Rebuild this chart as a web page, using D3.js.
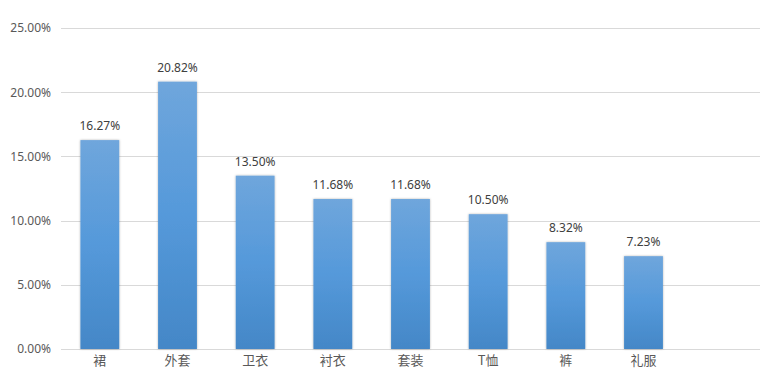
<!DOCTYPE html>
<html><head><meta charset="utf-8">
<script src="https://cdn.jsdelivr.net/npm/d3@7"></script>
<style>body{margin:0;background:#fff;} svg{display:block;}</style>
</head><body>
<svg id="chart" width="765" height="370"></svg>
<script>
const categories = ["裙","外套","卫衣","衬衣","套装","T恤","裤","礼服",""];
const values = [0.1627,0.2082,0.1350,0.1168,0.1168,0.1050,0.0832,0.0723];
const yTicks = [0,0.05,0.10,0.15,0.20,0.25];

const svg = d3.select("#chart");
const W = 765, H = 370;
const m = {left:61, right:5, top:28, bottom:21};
const x = d3.scaleBand().domain(categories).range([m.left, W - m.right]).paddingInner(0.5).paddingOuter(0.25);
const y = d3.scaleLinear().domain([0,0.25]).range([H - m.bottom, m.top]);
const fmt = d3.format(".2%");

const defs = svg.append("defs");
const g = defs.append("linearGradient").attr("id","barGrad").attr("x1",0).attr("y1",0).attr("x2",0).attr("y2",1);
g.append("stop").attr("offset","0%").attr("stop-color","#6fa6dc");
g.append("stop").attr("offset","50%").attr("stop-color","#5599da");
g.append("stop").attr("offset","100%").attr("stop-color","#4487c7");
const f = defs.append("filter").attr("id","shadow").attr("x","-20%").attr("y","-5%").attr("width","140%").attr("height","110%");
f.append("feDropShadow").attr("dx",0).attr("dy",0).attr("stdDeviation",1.3).attr("flood-color","#000").attr("flood-opacity",0.3);

// gridlines
svg.append("g").selectAll("line").data(yTicks).join("line")
  .attr("x1", m.left).attr("x2", W - m.right)
  .attr("y1", d => Math.round(y(d)) + 0.5).attr("y2", d => Math.round(y(d)) + 0.5)
  .attr("stroke", "#d9d9d9").attr("stroke-width", 1);

// y axis
const yAxis = svg.append("g").attr("transform", `translate(${m.left - 10},0)`)
  .call(d3.axisLeft(y).tickValues(yTicks).tickFormat(fmt).tickSize(0).tickPadding(0));
yAxis.select(".domain").remove();
yAxis.selectAll("text").attr("fill","#595959").style("font-family","'Noto Sans', 'DejaVu Sans', sans-serif").style("font-size","12px");

// bars
const data = values.map((v,i)=>({c:categories[i], v}));
svg.append("g").selectAll("rect").data(data).join("rect")
  .attr("x", d => x(d.c)).attr("width", x.bandwidth())
  .attr("y", d => y(d.v)).attr("height", d => y(0) - y(d.v))
  .attr("fill","url(#barGrad)").attr("filter","url(#shadow)");

// data labels
svg.append("g").selectAll("text").data(data).join("text")
  .attr("x", d => x(d.c) + x.bandwidth()/2).attr("y", d => y(d.v) - 10)
  .attr("text-anchor","middle").attr("fill","#404040")
  .style("font-family","'Noto Sans', 'DejaVu Sans', sans-serif").style("font-size","12px")
  .text(d => fmt(d.v));

// x axis
const xAxis = svg.append("g").attr("transform", `translate(0,${y(0)})`)
  .call(d3.axisBottom(x).tickSize(0).tickPadding(0));
xAxis.select(".domain").remove();
xAxis.selectAll("text").attr("dy", null).attr("y", 16).attr("fill","#595959")
  .style("font-family","'Noto Sans CJK SC', sans-serif").style("font-size","13px");
</script>
</body></html>
